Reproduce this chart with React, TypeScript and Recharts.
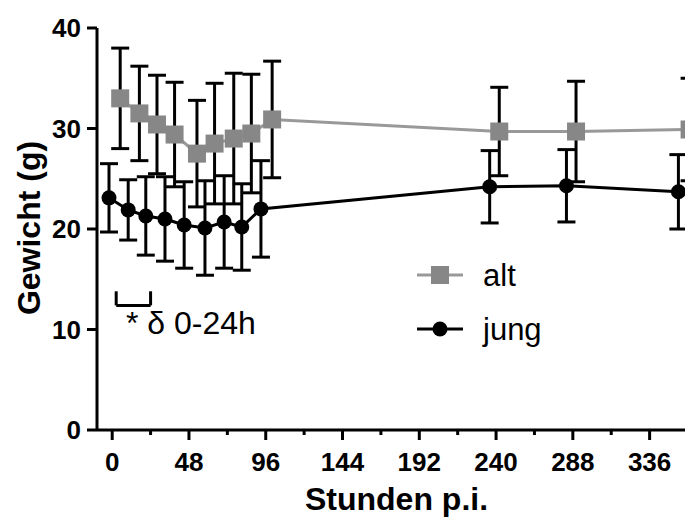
import { ComposedChart, Line, XAxis, YAxis, ErrorBar, Legend, ReferenceLine } from 'recharts';

// Stunden p.i. (Punkte leicht versetzt wie im Original)
const altHours = [5, 17, 28, 39, 53, 64, 76, 87, 100, 242, 290, 361];
const altMean = [33.0, 31.5, 30.4, 29.4, 27.5, 28.5, 29.0, 29.5, 30.9, 29.7, 29.7, 29.9];
const altSd = [5.0, 4.7, 4.9, 5.2, 5.3, 6.0, 6.5, 5.9, 5.8, 4.4, 5.0, 5.1];

const jungHours = [-2, 10, 21, 33, 45, 58, 70, 81, 93, 236, 284, 354];
const jungMean = [23.1, 21.9, 21.3, 21.0, 20.4, 20.1, 20.7, 20.2, 22.0, 24.2, 24.3, 23.7];
const jungSd = [3.4, 3.0, 3.9, 4.2, 4.3, 4.7, 4.6, 4.3, 4.8, 3.6, 3.6, 3.7];

const xTicks = [0, 24, 48, 72, 96, 120, 144, 168, 192, 216, 240, 264, 288, 312, 336];
const yTicks = [0, 10, 20, 30, 40];

// Klammer "0-24h"
const bracketHours = [2.5, 24];
const bracketLevels = [13.8, 12.4];

const altData = altHours.map((t, i) => ({ t, mean: altMean[i], sd: altSd[i] }));
const jungData = jungHours.map((t, i) => ({ t, mean: jungMean[i], sd: jungSd[i] }));

const font = '"Liberation Sans", Arial, sans-serif';

const SquareDot = (props: any) => {
    const { cx, cy } = props;
    if (cx == null || cy == null) return null;
    return <rect x={cx - 9} y={cy - 9} width={18} height={18} fill="#878787" />;
};

const XTick = (props: any) => {
    const { x, y, payload } = props;
    const major = payload.value % 48 === 0;
    return (
        <g>
            <line x1={x} x2={x} y1={y} y2={y + (major ? 10 : 5)} stroke="#000" strokeWidth={3} />
            {major && (
                <text x={x} y={y + 41} textAnchor="middle" fontFamily={font} fontSize={26} fontWeight="bold" fill="#000">
                    {payload.value}
                </text>
            )}
        </g>
    );
};

const LegendBox = (props: any) => {
    const { payload } = props;
    return (
        <div style={{ fontFamily: font, fontSize: 31, color: '#000' }}>
            {(payload || []).map((entry: any, i: number) => (
                <div key={entry.value} style={{ display: 'flex', alignItems: 'center', height: 54 }}>
                    <svg width={46} height={24}>
                        <line x1={0} x2={46} y1={12} y2={12} stroke={entry.color} strokeWidth={3} />
                        {i === 0 ? (
                            <rect x={14} y={3} width={18} height={18} fill="#878787" />
                        ) : (
                            <circle cx={23} cy={12} r={7.5} fill="#000" />
                        )}
                    </svg>
                    <span style={{ marginLeft: 20, lineHeight: 1 }}>{entry.value}</span>
                </div>
            ))}
        </div>
    );
};

const App = () => {
    return (
        <div style={{ position: 'absolute', left: 0, top: 0, width: 685, height: 518, overflow: 'hidden', background: '#fff' }}>
            <ComposedChart width={700} height={518} margin={{ top: 28, right: 4, left: 0, bottom: 0 }}>
                <XAxis
                    type="number"
                    dataKey="t"
                    domain={[-9.5, 365]}
                    ticks={xTicks}
                    interval={0}
                    height={88}
                    tickSize={0}
                    tickMargin={0}
                    tickLine={false}
                    axisLine={{ stroke: '#000', strokeWidth: 3 }}
                    tick={<XTick />}
                    allowDataOverflow
                    label={{
                        value: 'Stunden p.i.',
                        position: 'insideBottom',
                        offset: 8,
                        style: { fontFamily: font, fontSize: 32, fontWeight: 'bold', fill: '#000' },
                    }}
                />
                <YAxis
                    type="number"
                    domain={[0, 40]}
                    ticks={yTicks}
                    width={97}
                    tickSize={10}
                    tickMargin={6}
                    axisLine={{ stroke: '#000', strokeWidth: 3 }}
                    tickLine={{ stroke: '#000', strokeWidth: 3 }}
                    tick={{ fill: '#000', fontSize: 26, fontWeight: 'bold', fontFamily: font }}
                    label={{
                        content: () => (
                            <text
                                transform="translate(40,228) rotate(-90)"
                                textAnchor="middle"
                                fontFamily={font}
                                fontSize={32}
                                fontWeight="bold"
                                fill="#000"
                            >
                                Gewicht (g)
                            </text>
                        ),
                    }}
                />
                <Legend
                    layout="horizontal"
                    verticalAlign="middle"
                    align="center"
                    content={<LegendBox />}
                    wrapperStyle={{ position: 'absolute', left: 417, top: 248, width: 'auto', height: 'auto' }}
                />
                <ReferenceLine segment={[{ x: bracketHours[0], y: bracketLevels[0] }, { x: bracketHours[0], y: bracketLevels[1] }]} stroke="#000" strokeWidth={3} />
                <ReferenceLine segment={[{ x: bracketHours[0], y: bracketLevels[1] }, { x: bracketHours[1], y: bracketLevels[1] }]} stroke="#000" strokeWidth={3} />
                <ReferenceLine segment={[{ x: bracketHours[1], y: bracketLevels[1] }, { x: bracketHours[1], y: bracketLevels[0] }]} stroke="#000" strokeWidth={3} />
                <Line
                    name="alt"
                    data={altData}
                    dataKey="mean"
                    stroke="#999"
                    strokeWidth={3}
                    dot={<SquareDot />}
                    activeDot={false}
                    isAnimationActive={false}
                >
                    <ErrorBar dataKey="sd" direction="y" width={9} stroke="#000" strokeWidth={3} isAnimationActive={false} />
                </Line>
                <Line
                    name="jung"
                    data={jungData}
                    dataKey="mean"
                    stroke="#000"
                    strokeWidth={3}
                    dot={{ r: 7.5, fill: '#000', stroke: '#000', strokeWidth: 0 }}
                    activeDot={false}
                    isAnimationActive={false}
                >
                    <ErrorBar dataKey="sd" direction="y" width={9} stroke="#000" strokeWidth={3} isAnimationActive={false} />
                </Line>
            </ComposedChart>
            <div
                style={{
                    position: 'absolute',
                    left: 126,
                    top: 307,
                    fontFamily: font,
                    fontSize: 32,
                    lineHeight: 1,
                    color: '#000',
                    whiteSpace: 'nowrap',
                }}
            >
                * δ 0-24h
            </div>
        </div>
    );
};

export default App;
